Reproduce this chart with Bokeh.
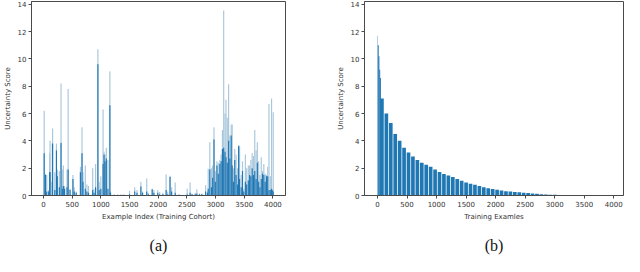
from bokeh.plotting import figure
from bokeh.layouts import row
from bokeh.models import Range1d, FixedTicker, Title
from bokeh.embed import file_html
from bokeh.resources import INLINE

# ---- Panel (a): uncertainty per example index (training cohort) ----
a_index = [11, 34, 56, 90, 107, 113, 152, 158, 197, 225, 240, 276, 305, 327, 345, 367,
           410, 429, 462, 513, 536, 570, 643, 671, 688, 728, 756, 784, 857, 880, 908,
           948, 970, 999, 1038, 1055, 1072, 1095, 1123, 1157, 1168,
           1230, 1290, 1350, 1400, 1500, 1590, 1630, 1698, 1727, 1800, 1828, 1895, 1925,
           1992, 2025, 2082, 2138, 2166, 2206, 2234, 2296, 2364, 2505, 2556, 2590, 2646,
           2674, 2720, 2760, 2827, 2860,
           2872, 2900, 2928, 2950, 2973, 2996, 3024, 3047, 3075, 3097, 3120, 3142, 3165,
           3182, 3205, 3228, 3250, 3273, 3290, 3312, 3335, 3358, 3385, 3402, 3419, 3447,
           3470, 3492, 3520, 3543, 3571, 3594, 3616, 3639, 3661, 3684, 3707, 3729, 3752,
           3774, 3797, 3820, 3842, 3865, 3888, 3910, 3932, 3955, 3977, 3988, 4006]
a_peak = [6.2, 1.6, 1.5, 0.4, 3.1, 4.0, 3.8, 4.9, 1.7, 3.8, 1.9, 1.8, 8.2, 1.9, 2.2, 0.7,
          1.9, 7.8, 0.5, 1.5, 0.6, 0.3, 2.1, 5.0, 1.7, 2.2, 0.8, 0.7, 2.0, 0.5, 2.3,
          10.7, 1.0, 1.4, 6.3, 3.2, 3.0, 3.5, 2.6, 9.1, 0.3,
          0.05, 0.05, 0.05, 0.05, 0.35, 0.6, 0.4, 1.0, 0.3, 1.25, 0.2, 0.5, 0.4,
          0.4, 0.25, 0.2, 1.55, 0.3, 1.45, 0.6, 0.95, 0.1, 0.5, 0.95, 0.15, 0.2,
          0.45, 0.15, 0.15, 0.75, 0.3,
          1.95, 3.9, 2.0, 2.2, 5.0, 1.8, 2.5, 2.4, 2.6, 3.0, 4.8, 13.55, 6.0,
          7.0, 5.7, 8.15, 4.4, 5.2, 5.2, 2.0, 3.4, 3.0, 2.0, 3.7, 3.6, 1.5,
          2.5, 0.5, 3.0, 2.0, 2.2, 2.2, 2.6, 3.1, 2.9, 4.8, 3.3, 3.9, 2.5,
          1.5, 2.8, 1.8, 2.3, 1.6, 1.5, 2.1, 6.7, 1.4, 7.1, 0.4, 6.1]
a_core = [3.1, 1.5, 0.3, 0.3, 1.7, 1.7, 1.0, 3.8, 0.4, 3.3, 1.4, 0.6, 3.85, 0.5, 0.7, 0.5,
          0.6, 1.9, 0.4, 1.2, 0.3, 0.2, 1.7, 3.1, 1.0, 0.5, 0.3, 0.2, 0.4, 0.2, 0.6,
          9.6, 0.4, 0.5, 2.3, 3.0, 2.5, 2.7, 0.5, 6.6, 0.2,
          0.05, 0.05, 0.05, 0.05, 0.1, 0.3, 0.2, 0.65, 0.2, 0.3, 0.1, 0.45, 0.2,
          0.2, 0.1, 0.1, 0.4, 0.1, 1.35, 0.3, 0.2, 0.05, 0.1, 0.2, 0.1, 0.1,
          0.15, 0.1, 0.1, 0.3, 0.2,
          0.5, 1.9, 0.6, 1.3, 4.1, 1.0, 2.2, 1.6, 2.3, 2.5, 3.4, 3.5, 3.2,
          2.8, 2.4, 4.0, 2.7, 4.4, 2.2, 1.0, 2.6, 1.5, 0.8, 3.6, 1.2, 0.6,
          1.8, 0.3, 1.0, 0.8, 1.1, 1.5, 1.4, 2.0, 1.5, 1.8, 1.2, 2.4, 1.0,
          0.6, 1.2, 1.6, 1.5, 1.0, 1.4, 1.4, 0.4, 0.4, 0.5, 0.4, 0.3]

# ---- Panel (b): sorted uncertainty over training examples ----
b_head_index = [0, 12, 24, 38, 52]
b_head_score = [11.7, 11.0, 10.2, 9.2, 8.6]
b_index = [75, 150, 225, 300, 375, 450, 525, 600, 675, 750, 825, 900, 975, 1050, 1125,
           1200, 1275, 1350, 1425, 1500, 1575, 1650, 1725, 1800, 1875, 1950, 2025, 2100,
           2175, 2250, 2325, 2400, 2475, 2550, 2625, 2700, 2775, 2850, 2925, 3000, 3075,
           3150, 3225, 3300]
b_score = [7.1, 6.0, 5.3, 4.5, 4.0, 3.5, 3.15, 2.85, 2.6, 2.4, 2.25, 2.1, 1.9, 1.72, 1.58,
           1.47, 1.35, 1.2, 1.08, 0.95, 0.86, 0.78, 0.7, 0.6, 0.53, 0.47, 0.42, 0.37,
           0.32, 0.29, 0.26, 0.23, 0.21, 0.18, 0.15, 0.12, 0.1, 0.08, 0.06, 0.05, 0.04,
           0.03, 0.02, 0.015]

x_ticks = [0, 500, 1000, 1500, 2000, 2500, 3000, 3500, 4000]
y_ticks = [0, 2, 4, 6, 8, 10, 12, 14]

BLUE = "#1f77b4"
LIGHT = "#a8c6dc"
TICK_FONT = "DejaVu Sans"


def style(p, xlabel, caption):
    p.xgrid.visible = False
    p.ygrid.visible = False
    p.outline_line_color = "#4a4a4a"
    p.outline_line_width = 1
    p.xaxis.ticker = FixedTicker(ticks=x_ticks)
    p.yaxis.ticker = FixedTicker(ticks=y_ticks)
    for ax in (p.xaxis[0], p.yaxis[0]):
        ax.axis_line_color = "#4a4a4a"
        ax.major_tick_line_color = "#4a4a4a"
        ax.major_tick_out = 3
        ax.major_tick_in = 0
        ax.minor_tick_out = 0
        ax.minor_tick_in = 0
        ax.major_label_text_font = TICK_FONT
        ax.major_label_text_font_size = "7px"
        ax.major_label_text_color = "#333333"
        ax.major_label_standoff = 2
        ax.axis_label_text_font = TICK_FONT
        ax.axis_label_text_font_size = "7px"
        ax.axis_label_text_font_style = "normal"
        ax.axis_label_text_color = "#333333"
        ax.axis_label_standoff = 3
    p.xaxis.axis_label = xlabel
    p.yaxis.axis_label = "Uncertainty Score"
    p.add_layout(Title(text=caption, align="center", text_font="Liberation Serif",
                       text_font_size="16px", text_font_style="normal",
                       text_color="#111111", standoff=22), "below")


p1 = figure(width=312, height=264, output_backend="svg", toolbar_location=None,
            x_range=Range1d(-210, 4220), y_range=Range1d(0, 14.2),
            min_border_left=23, min_border_right=27, min_border_top=1, min_border_bottom=10)
p1.vbar(x=a_index, top=a_peak, width=20, fill_color=LIGHT, line_color=None)
p1.vbar(x=a_index, top=a_core, width=20, fill_color=BLUE, line_color=None)
style(p1, "Example Index (Training Cohort)", "(a)")

p2 = figure(width=312, height=264, output_backend="svg", toolbar_location=None,
            x_range=Range1d(-220, 4165), y_range=Range1d(0, 14.2),
            min_border_left=52, min_border_right=1, min_border_top=1, min_border_bottom=10)
p2.vbar(x=b_head_index, top=b_head_score, width=14, fill_color=LIGHT, line_color=None)
p2.vbar(x=b_head_index[1:], top=b_head_score[1:], width=14, fill_color=BLUE, line_color=None)
p2.vbar(x=b_index, top=b_score, width=62, fill_color=BLUE, line_color=None)
style(p2, "Training Examles", "(b)")

layout = row(p1, p2)
open("out.html", "w").write(file_html(layout, INLINE))
